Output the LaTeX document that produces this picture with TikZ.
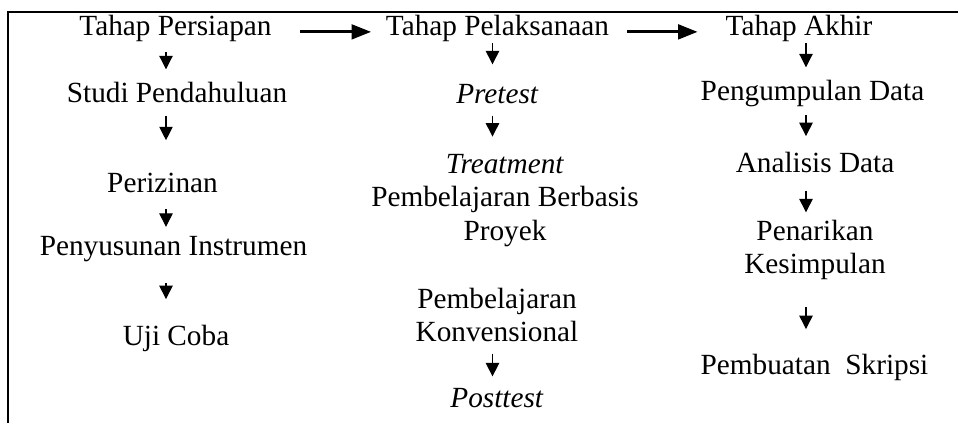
\documentclass[tikz,border=0pt]{standalone}
\usepackage{fontspec}
\setmainfont{Liberation Serif}
\usetikzlibrary{arrows.meta}

\begin{document}
\begin{tikzpicture}[
    x=0.41pt, y=-0.41pt,
    font=\fontsize{12}{13.8}\selectfont,
    stage/.style={inner sep=0pt, align=center},
    arrow/.style 2 args={-{Triangle[length=8pt,width=6pt]}, line width=1.2pt, shorten <=#1, shorten >=#2},
    darrow/.style 2 args={-{Triangle[length=5.5pt,width=5.5pt]}, line width=0.45pt, shorten <=#1, shorten >=#2}
]
    \useasboundingbox (0,0) rectangle (958,423);
    \draw[line width=0.8pt] (958,12) -- (8,12) -- (8,423);

    % lanes of the small down arrows
    \coordinate (lane1) at (166,0);
    \coordinate (lane2) at (492.5,0);
    \coordinate (lane3) at (806,0);

    % Tahap Persiapan
    \node[stage, anchor=base] (pers) at (175.5,36) {Tahap Persiapan};
    \node[stage, anchor=base] (studi) at (177,103) {Studi Pendahuluan};
    \node[stage, anchor=base] (izin) at (162.5,193) {Perizinan};
    \node[stage, anchor=base] (instr) at (173.5,256) {Penyusunan Instrumen};
    \node[stage, anchor=base] (uji) at (176,346) {Uji Coba};

    % Tahap Pelaksanaan
    \node[stage, anchor=base] (laks) at (497.5,36) {Tahap Pelaksanaan};
    \node[stage, anchor=base] (pre) at (497.5,104) {\textit{Pretest}};
    \node[stage] (treat) at (505,200.3) {\textit{Treatment}\\Pembelajaran Berbasis\\Proyek};
    \node[stage] (konv) at (497,314.9) {Pembelajaran\\Konvensional};
    \node[stage, anchor=base] (post) at (497,408) {\textit{Posttest}};

    % Tahap Akhir
    \node[stage, anchor=base] (akhir) at (799,36) {Tahap Akhir};
    \node[stage, anchor=base] (kumpul) at (812.5,101) {Pengumpulan Data};
    \node[stage, anchor=base] (anal) at (815,173) {Analisis Data};
    \node[stage] (tarik) at (815,250) {Penarikan\\Kesimpulan};
    \node[stage, anchor=base] (skripsi) at (814.5,375) {Pembuatan~~Skripsi};

    \draw[arrow={11.4pt}{5.9pt}] ([yshift=-1.2pt]pers.east) -- ([yshift=-1.2pt]laks.west);
    \draw[arrow={7.1pt}{11.3pt}] ([yshift=-1.2pt]laks.east) -- ([yshift=-1.2pt]akhir.west);

    \draw[darrow={3.9pt}{5.3pt}] (pers.south -| lane1) -- (studi.north -| lane1);
    \draw[darrow={4.9pt}{13.5pt}] (studi.south -| lane1) -- (izin.north -| lane1);
    \draw[darrow={6.2pt}{3.9pt}] (izin.south -| lane1) -- (instr.north -| lane1);
    \draw[darrow={8.4pt}{10.7pt}] (instr.south -| lane1) -- (uji.north -| lane1);

    \draw[darrow={0.2pt}{8.2pt}] (laks.south -| lane2) -- (pre.north -| lane2);
    \draw[darrow={4.5pt}{6.9pt}] (pre.south -| lane2) -- (treat.north -| lane2);
    \draw[darrow={4.6pt}{4.9pt}] (konv.south -| lane2) -- (post.north -| lane2);

    \draw[darrow={0.2pt}{5.3pt}] (akhir.south -| lane3) -- (kumpul.north -| lane3);
    \draw[darrow={3.1pt}{6.6pt}] (kumpul.south -| lane3) -- (anal.north -| lane3);
    \draw[darrow={7.0pt}{2.9pt}] (anal.south -| lane3) -- (tarik.north -| lane3);
    \draw[darrow={11.0pt}{10.3pt}] (tarik.south -| lane3) -- (skripsi.north -| lane3);
\end{tikzpicture}
\end{document}
